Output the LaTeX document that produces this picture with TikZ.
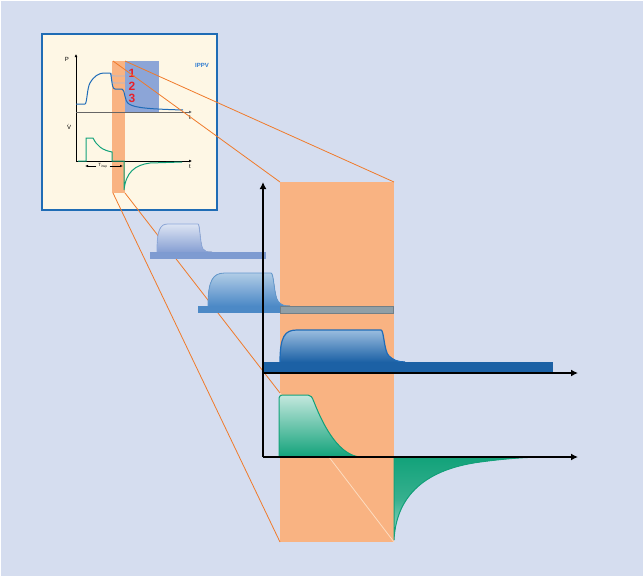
\documentclass[tikz,border=0pt]{standalone}
\usepackage{fontspec}
\setmainfont{Liberation Sans}
\usetikzlibrary{arrows.meta}
\definecolor{bg}{HTML}{D5DDEF}
\definecolor{cream}{HTML}{FEF7E5}
\definecolor{boxblue}{HTML}{1F6CB5}
\definecolor{orng}{HTML}{F9B382}
\definecolor{oline}{HTML}{F07A2A}
\definecolor{paleline}{HTML}{FDDCC0}
\definecolor{insetblue}{HTML}{8CA5D7}
\definecolor{faintband}{HTML}{7E9BD1}
\definecolor{faintline}{HTML}{8DA8DA}
\definecolor{faintbot}{HTML}{869FD3}
\definecolor{faintcurve}{HTML}{A9B8D6}
\definecolor{grayband}{HTML}{909FA6}
\definecolor{pcurve}{HTML}{1F6CB8}
\definecolor{gcurve}{HTML}{12A27A}
\definecolor{red3}{HTML}{E8202A}
\definecolor{ippv}{HTML}{2E7BD0}
\tikzset{
  orangeline/.style={oline, line width=0.8pt},
  axisline/.style={black, line width=1.6pt, -{Latex[length=7pt,width=7pt]}},
  smallaxis/.style={line width=0.8pt, -{Latex[length=3pt,width=3pt]}},
  lbl/.style={inner sep=0pt, font=\fontsize{6}{7}\selectfont},
  digit/.style={inner sep=0pt, font=\bfseries\fontsize{12}{13}\selectfont, text=red3},
}
\begin{document}
\begin{tikzpicture}[x=1pt,y=-1pt]
\useasboundingbox (0,0) rectangle (643,576);
\fill[white] (0,0) rectangle (643,576);
\fill[bg] (1,1) rectangle (643,576);

% big orange window
\fill[orng] (280,182) rectangle (394,542);

% inset
\draw[boxblue, fill=cream, line width=2pt] (42,34) rectangle (217,210);
\fill[insetblue] (125,61) rectangle (159,112);
\fill[orng] (112,61) rectangle (125,193);
\draw[smallaxis] (76,161) -- (76,54);
\draw[smallaxis, black!60] (76,112) -- (192,112);
\draw[smallaxis] (76,161) -- (192,161);
\node[lbl] (lp) at (67,59) {P};
\node[lbl] (lt1) at (190,118) {t};
\node[lbl] (lv) at (69,127) {\.{V}};
\node[lbl] (lt2) at (190,167) {t};
\node[inner sep=0pt, font=\bfseries\fontsize{6}{7}\selectfont, text=ippv] (ippv) at (202,65) {IPPV};
\node[digit] (n1) at (132,73) {1};
\node[digit] (n2) at (132,86) {2};
\node[digit] (n3) at (132,98) {3};
% light curves 1 and 2
\draw[faintcurve, line width=0.9pt] (111,73) .. controls (112,76) .. (115,76) -- (125,76);
\draw[faintcurve, line width=0.9pt] (111,73) .. controls (112,83) .. (116,83) -- (125,83);
% pressure curve 3
\draw[pcurve, line width=1pt] (76,104) -- (85,104) .. controls (87,104) and (87,88) .. (90,83) .. controls (94,76) and (99,73) .. (104,73) -- (110,73) .. controls (112,73) and (111,89) .. (115,89) -- (122,89) .. controls (125,89) and (124,101) .. (129,104) .. controls (135,108) and (150,109) .. (183,110);
% flow curve
\draw[gcurve, line width=1pt] (78,161) -- (86,161) -- (86,138) -- (93,138) .. controls (97,146) and (102,150) .. (112,152) -- (112,161) -- (124,161) -- (124,190) .. controls (126,172) and (135,165) .. (150,163) -- (182,162);
% T insp
\node[lbl, font=\fontsize{4.5}{5}\selectfont] (tinsp) at (103,166) {T\textsubscript{insp}};
\draw[line width=0.6pt, -{Latex[length=3pt,width=2.5pt]}] (tinsp.west) ++(-2,0) -- (85,166);
\draw[line width=0.6pt, -{Latex[length=3pt,width=2.5pt]}] (tinsp.east) ++(2,0) -- (123,166);

% zoom lines
\coordinate (sTL) at (113,61);
\coordinate (sTR) at (125,61);
\coordinate (sBL) at (113,193);
\coordinate (sBR) at (125,193);
\coordinate (wTL) at (280,182);
\coordinate (wTR) at (394,182);
\coordinate (wBL) at (280,542);
\coordinate (wBR) at (394,542);
\coordinate (wMid) at (280,393);
\draw[orangeline] (sTL) -- (wTL);
\draw[orangeline] (sTR) -- (wTR);
\draw[orangeline] (sBL) -- (wBL);
\draw[orangeline] (sBR) -- (wMid);
\draw[paleline, line width=0.8pt] (wMid) -- (wBR);

% pressure curve 1 (faint)
\fill[top color=white!70!insetblue, bottom color=faintbot]
  (157,252) .. controls (157,230) and (160,224) .. (168,224) -- (198,224) .. controls (200,224) and (200,245) .. (203,249) .. controls (205,252) and (207,252) .. (212,252) -- cycle;
\draw[faintline, line width=0.8pt]
  (157,252) .. controls (157,230) and (160,224) .. (168,224) -- (198,224) .. controls (200,224) and (200,245) .. (203,249) .. controls (205,252) and (207,252) .. (212,252);
\fill[faintband] (150,252) rectangle (266,259);

% pressure curve 2
\fill[top color=white!65!pcurve, bottom color=pcurve!80!white]
  (208,306) .. controls (208,280) and (213,273) .. (225,273) -- (271,273) .. controls (274,273) and (274,296) .. (278,301) .. controls (281,305) and (284,306) .. (290,306) -- cycle;
\draw[pcurve!70!white, line width=0.8pt]
  (208,306) .. controls (208,280) and (213,273) .. (225,273) -- (271,273) .. controls (274,273) and (274,296) .. (278,301) .. controls (281,305) and (284,306) .. (290,306);
\fill[pcurve!80!white] (198,306) rectangle (280,313);
\draw[grayband!80!black, fill=grayband] (280,306) rectangle (393,313);

% pressure curve 3
\fill[top color=white!55!pcurve, bottom color=pcurve!90!black]
  (280,362) .. controls (280,336) and (285,330) .. (297,330) -- (381,330) .. controls (384,330) and (384,352) .. (389,356) .. controls (393,360) and (398,362) .. (405,362) -- cycle;
\draw[pcurve, line width=1.2pt]
  (280,362) .. controls (280,336) and (285,330) .. (297,330) -- (381,330) .. controls (384,330) and (384,352) .. (389,356) .. controls (393,360) and (398,362) .. (405,362);
\fill[pcurve!90!black] (263,362) rectangle (553,373);

% inspiratory flow
\fill[top color=white!75!gcurve, bottom color=gcurve]
  (279,457) -- (279,400) .. controls (279,396) and (280,395) .. (284,395) -- (308,395) .. controls (311,395) and (312,397) .. (314,402) .. controls (325,430) and (340,455) .. (360,457) -- cycle;
\draw[gcurve, line width=1pt]
  (279,457) -- (279,400) .. controls (279,396) and (280,395) .. (284,395) -- (308,395) .. controls (311,395) and (312,397) .. (314,402) .. controls (325,430) and (340,455) .. (360,457);
% expiratory flow
\fill[top color=gcurve, bottom color=white!60!gcurve, middle color=gcurve!85!white]
  (394,457) -- (394,540) .. controls (396,500) and (420,470) .. (480,462) .. controls (510,458) and (530,457) .. (549,457) -- cycle;
\draw[gcurve, line width=1pt]
  (394,457) -- (394,540) .. controls (396,500) and (420,470) .. (480,462) .. controls (510,458) and (530,457) .. (549,457);

% axes
\draw[axisline] (263,457) -- (263,182);
\draw[axisline] (263,373) -- (578,373);
\draw[axisline] (263,457) -- (578,457);
\end{tikzpicture}
\end{document}
